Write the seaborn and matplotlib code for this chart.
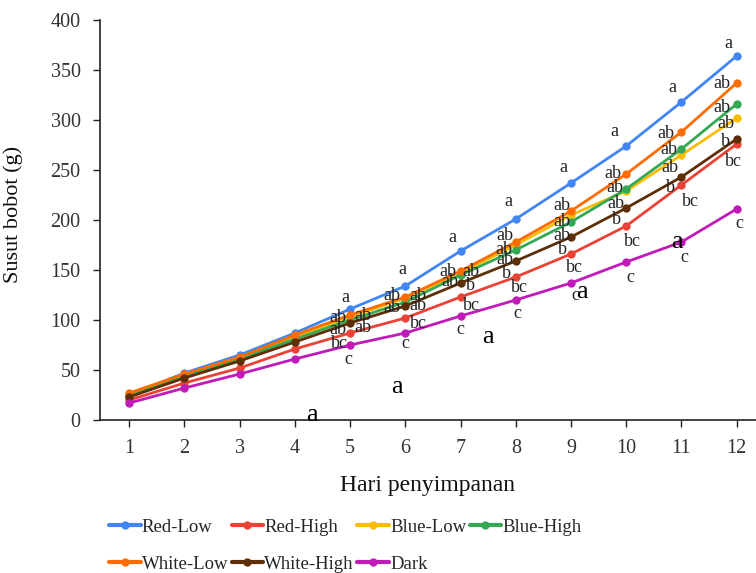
import matplotlib
matplotlib.use('Agg')
import matplotlib.pyplot as plt
import seaborn as sns
import pandas as pd
from matplotlib.lines import Line2D

# storage day
days = list(range(1, 13))

treatments = ['Red-Low', 'Red-High', 'Blue-Low', 'Blue-High',
              'White-Low', 'White-High', 'Dark']

# weight loss (g)
red_low = [25, 47, 65, 87, 111, 134, 169, 201, 237, 274, 318, 364]
red_high = [20, 37, 52, 71, 87, 102, 123, 143, 166, 194, 235, 276]
blue_low = [25, 45, 62, 83, 103, 122, 147, 175, 205, 229, 265, 302]
blue_high = [24, 44, 61, 81, 100, 118, 145, 170, 198, 231, 271, 316]
white_low = [27, 46, 63, 85, 105, 123, 149, 178, 209, 246, 288, 337]
white_high = [23, 42, 59, 78, 97, 114, 137, 159, 183, 212, 243, 281]
dark = [17, 32, 46, 61, 75, 87, 104, 120, 137, 158, 178, 211]

# significance letters per day (day 5..12), top to bottom
letters_day5 = ['a', 'ab', 'ab', 'ab', 'ab', 'bc', 'c']
letters_day6 = ['a', 'ab', 'ab', 'ab', 'ab', 'bc', 'c']
letters_rest = ['a', 'ab', 'ab', 'ab', 'b', 'bc', 'c']
stray_letter = 'a'

palette = {
    'Red-Low': '#4285F4',
    'Red-High': '#EA4335',
    'Blue-Low': '#FBBC04',
    'Blue-High': '#34A853',
    'White-Low': '#FF6D01',
    'White-High': '#5E2F06',
    'Dark': '#C01BB8',
}

series = [red_low, red_high, blue_low, blue_high, white_low, white_high, dark]
df = pd.DataFrame({
    'day': days * len(treatments),
    'value': sum(series, []),
    'treatment': [t for t in treatments for _ in days],
})

# where the letters sit (data coords), same order as the letter lists
letter_pos = {
    5: [(4.92, 123), (4.78, 103), (5.23, 105), (4.78, 91), (5.23, 93), (4.81, 77), (4.97, 61)],
    6: [(5.95, 150), (5.75, 124), (6.23, 124), (5.75, 113), (6.23, 115), (6.23, 97), (6.00, 77)],
    7: [(6.86, 183), (6.77, 149), (7.18, 149), (6.80, 139), (7.18, 134), (7.20, 114), (7.00, 91)],
    8: [(7.87, 218), (7.80, 184), (7.78, 170), (7.80, 161), (7.83, 146), (8.07, 132), (8.02, 107)],
    9: [(8.87, 252), (8.83, 214), (8.83, 198), (8.83, 185), (8.85, 170), (9.07, 152), (9.07, 124)],
    10: [(9.79, 288), (9.75, 246), (9.79, 232), (9.82, 217), (9.82, 200), (10.11, 178), (10.08, 143)],
    11: [(10.84, 333), (10.71, 286), (10.77, 270), (10.79, 253), (10.80, 232), (11.16, 218), (11.06, 163)],
    12: [(11.85, 377), (11.74, 337), (11.74, 312), (11.81, 297), (11.80, 278), (11.94, 259), (12.05, 197)],
}
stray_pos = [(4.31, 5), (5.85, 33), (7.49, 83), (9.19, 128), (10.91, 178)]

sns.set_style('ticks')
plt.rcParams['font.family'] = ['Liberation Serif', 'DejaVu Serif']

fig = plt.figure(figsize=(7.56, 5.73), dpi=100)
ax = fig.add_axes([100 / 756, 153 / 573, 656 / 756, 400 / 573])

sns.lineplot(data=df, x='day', y='value', hue='treatment', hue_order=treatments,
             palette=palette, marker='o', markersize=6, markeredgewidth=0,
             linewidth=2, ax=ax, legend=False)

for d in range(5, 13):
    labs = letters_day5 if d == 5 else letters_day6 if d == 6 else letters_rest
    for (x, y), t in zip(letter_pos[d], labs):
        ax.text(x, y, t, ha='center', va='center', fontsize=13, color='#222222')
for x, y in stray_pos:
    ax.text(x, y, stray_letter, ha='center', va='center', fontsize=19,
            color='black', clip_on=False)

ax.set_xlim(0.47, 12.35)
ax.set_ylim(0, 400)
ax.set_xticks(days)
ax.set_yticks(range(0, 401, 50))
sns.despine(ax=ax)
for s in ['left', 'bottom']:
    ax.spines[s].set_color('#222222')
    ax.spines[s].set_linewidth(1.2)
ax.tick_params(direction='out', length=5, width=1, labelsize=14.5, pad=9,
               colors='#222222', labelcolor='#333333')

ax.set_xlabel('Hari penyimpanan', fontsize=17, color='#111111', labelpad=12)
ax.set_ylabel('Susut bobot (g)', fontsize=16, color='#111111', labelpad=10)
ax.yaxis.set_label_coords(-0.118, 0.515)

handles = [Line2D([], [], color=palette[t], lw=3, marker='o', markersize=6,
                  markeredgewidth=0) for t in treatments]
order = [0, 4, 1, 5, 2, 6, 3]
fig.legend([handles[i] for i in order], [treatments[i] for i in order],
           loc='upper left', bbox_to_anchor=(0.144, 0.095), ncol=4,
           frameon=False, fontsize=13.5, handlelength=1.7, handletextpad=0.05,
           columnspacing=0.18, labelspacing=1.05, borderpad=0, borderaxespad=0)

fig.savefig('out.png', dpi=100)
